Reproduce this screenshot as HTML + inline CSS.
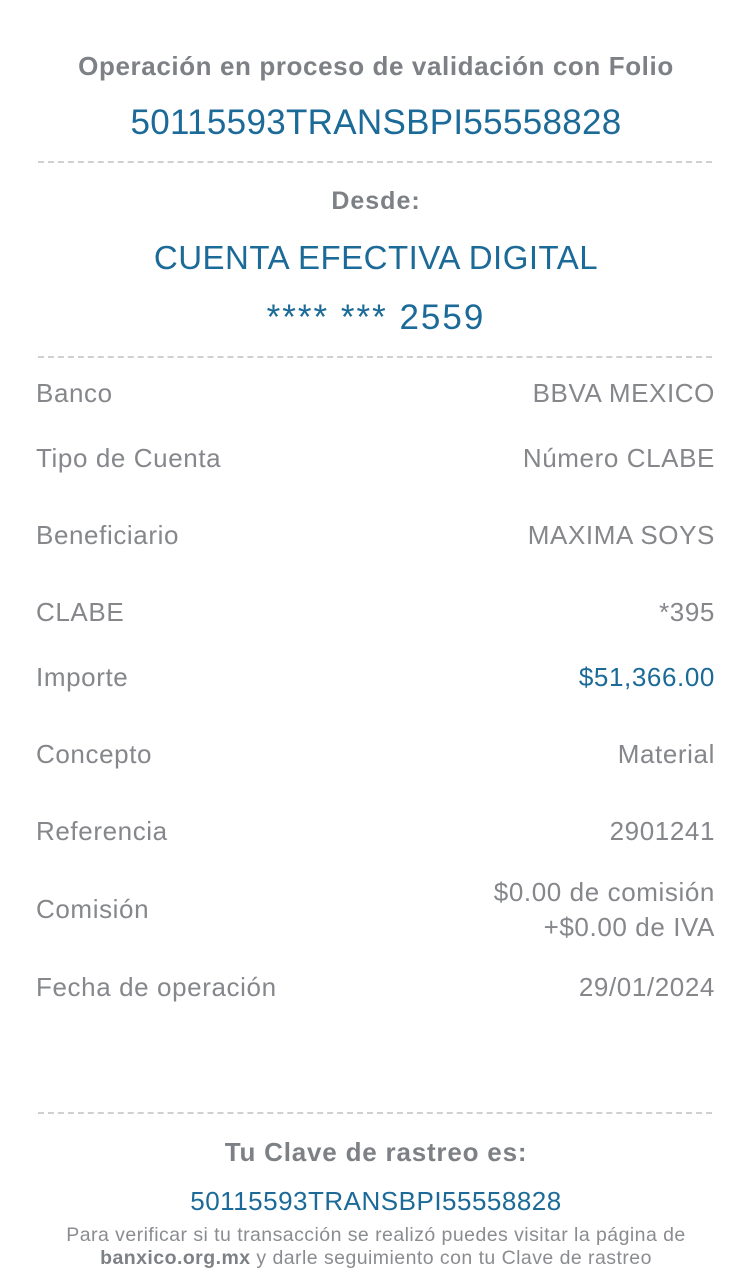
<!DOCTYPE html>
<html><head><meta charset="utf-8"><style>
html,body{margin:0;padding:0;background:#fff;width:752px;height:1280px;overflow:hidden;font-family:"Liberation Sans",sans-serif}
.c{position:absolute;left:0;width:752px;text-align:center;white-space:nowrap}
.l{position:absolute;left:36px;white-space:nowrap;color:#85878b;font-size:26px;letter-spacing:0.6px;line-height:30px}
.r{position:absolute;right:37px;white-space:nowrap;color:#85878b;font-size:26px;letter-spacing:0.6px;line-height:30px;text-align:right}
.d{position:absolute;left:38px;width:674px;height:0;border-top:2px dashed #cfd0d2}
.b{color:#1b6a98}
.g{color:#7d8085;font-weight:bold}
</style></head><body>
<div class="c g" style="top:49px;font-size:26px;line-height:34px;letter-spacing:0.6px">Operación en proceso de validación con Folio</div>
<div class="c b" style="top:102px;font-size:35px;line-height:42px;letter-spacing:0.3px">50115593TRANSBPI55558828</div>
<div class="d" style="top:161px"></div>
<div class="c g" style="top:186px;font-size:25px;line-height:30px;letter-spacing:1px">Desde:</div>
<div class="c b" style="top:238px;font-size:33px;line-height:40px;letter-spacing:0.5px">CUENTA EFECTIVA DIGITAL</div>
<div class="c b" style="top:298px;font-size:35px;line-height:40px;letter-spacing:2px">**** *** 2559</div>
<div class="d" style="top:356px"></div>

<div class="l" style="top:378px">Banco</div><div class="r" style="top:378px">BBVA MEXICO</div>
<div class="l" style="top:443px">Tipo de Cuenta</div><div class="r" style="top:443px">Número CLABE</div>
<div class="l" style="top:520px">Beneficiario</div><div class="r" style="top:520px">MAXIMA SOYS</div>
<div class="l" style="top:597px">CLABE</div><div class="r" style="top:597px">*395</div>
<div class="l" style="top:662px">Importe</div><div class="r" style="top:662px;color:#1b6a98">$51,366.00</div>
<div class="l" style="top:739px">Concepto</div><div class="r" style="top:739px">Material</div>
<div class="l" style="top:816px">Referencia</div><div class="r" style="top:816px">2901241</div>
<div class="l" style="top:894px">Comisión</div>
<div class="r" style="top:875px;line-height:35px">$0.00 de comisión<br>+$0.00 de IVA</div>
<div class="l" style="top:972px">Fecha de operación</div><div class="r" style="top:972px">29/01/2024</div>

<div class="d" style="top:1112px"></div>
<div class="c g" style="top:1136px;font-size:26px;line-height:32px;letter-spacing:0.8px">Tu Clave de rastreo es:</div>
<div class="c b" style="top:1186px;font-size:26px;line-height:30px;letter-spacing:0.5px">50115593TRANSBPI55558828</div>
<div class="c" style="top:1224px;font-size:19.5px;line-height:23px;letter-spacing:0.45px;color:#8a8c90">Para verificar si tu transacción se realizó puedes visitar la página de<br><b style="color:#7d8085">banxico.org.mx</b> y darle seguimiento con tu Clave de rastreo</div>
</body></html>
